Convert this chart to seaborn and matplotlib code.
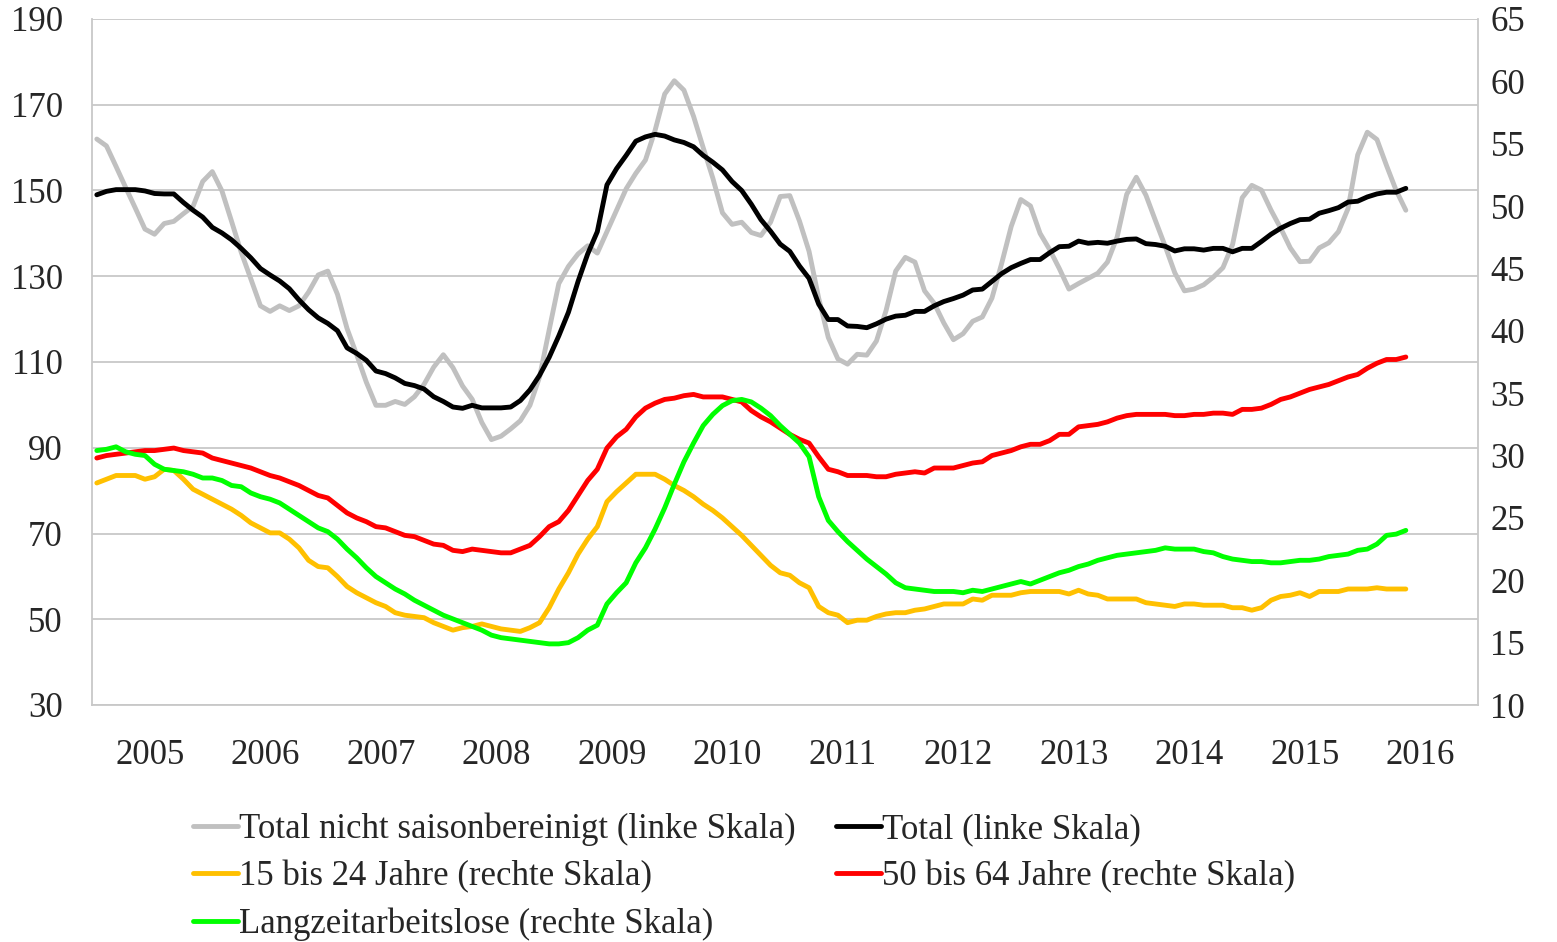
import numpy as np
import pandas as pd
import matplotlib
matplotlib.use("Agg")
import matplotlib.pyplot as plt
from matplotlib.ticker import FixedLocator
import seaborn as sns

# Monatswerte Jan 2005 - Mai 2016 (in Tausend)
years = [str(y) for y in range(2005, 2017)]

# linke Skala
total_nsa = [
    162.0, 160.4, 155.6, 150.7, 145.9, 141.0, 139.8, 142.3, 142.8, 144.6, 146.3, 152.1,
    154.4, 149.9, 142.8, 135.6, 129.4, 123.1, 121.8, 123.1, 122.0, 123.1, 126.3, 130.3,
    131.2, 125.8, 117.8, 111.7, 105.3, 99.9, 99.9, 100.8, 100.1, 101.9, 104.8, 108.8,
    111.7, 108.7, 104.4, 101.3, 95.9, 91.9, 92.7, 94.4, 96.3, 99.9, 106.5, 117.5,
    128.3, 132.3, 135.2, 137.1, 135.4, 140.4, 145.4, 150.4, 154.0, 157.1, 164.0, 172.5,
    175.6, 173.4, 167.3, 160.0, 152.9, 144.8, 142.1, 142.6, 140.2, 139.5, 142.6, 148.6,
    148.8, 142.9, 135.8, 124.9, 115.7, 110.7, 109.5, 111.8, 111.6, 114.9, 122.0, 131.2,
    134.4, 133.3, 126.6, 123.7, 119.1, 115.2, 116.6, 119.5, 120.5, 124.9, 132.9, 141.6,
    147.9, 146.4, 140.0, 136.2, 131.8, 127.0, 128.3, 129.5, 130.7, 133.3, 139.1, 149.1,
    153.1, 148.9, 142.9, 137.0, 130.8, 126.6, 127.0, 128.0, 129.8, 132.0, 137.4, 148.3,
    151.2, 150.1, 145.4, 141.2, 136.6, 133.4, 133.5, 136.6, 137.8, 140.4, 145.8, 158.3,
    163.6, 161.9, 155.8, 150.0, 145.4,
]
total = [
    149.0, 149.8, 150.2, 150.2, 150.2, 149.9, 149.3, 149.2, 149.2, 147.2, 145.4, 143.8,
    141.4, 140.1, 138.5, 136.5, 134.3, 131.8, 130.3, 128.9, 127.1, 124.5, 122.2, 120.3,
    119.0, 117.3, 113.3, 112.0, 110.4, 107.9, 107.3, 106.3, 105.0, 104.5, 103.7, 101.9,
    100.8, 99.5, 99.2, 99.9, 99.3, 99.3, 99.3, 99.5, 101.0, 103.5, 106.9, 111.1,
    116.1, 121.6, 128.8, 135.2, 140.4, 151.3, 155.1, 158.2, 161.5, 162.5, 163.1, 162.7,
    161.8, 161.2, 160.2, 158.2, 156.6, 154.8, 152.1, 150.0, 146.8, 143.2, 140.5, 137.5,
    135.8, 132.4, 129.5, 123.5, 119.9, 119.9, 118.4, 118.3, 118.0, 118.9, 120.0, 120.7,
    120.9, 121.8, 121.8, 123.1, 124.1, 124.8, 125.6, 126.8, 127.0, 128.8, 130.6, 132.0,
    133.0, 133.9, 133.9, 135.5, 136.9, 137.0, 138.2, 137.7, 137.9, 137.7, 138.2, 138.6,
    138.7, 137.6, 137.4, 137.0, 135.9, 136.4, 136.4, 136.1, 136.5, 136.5, 135.7, 136.5,
    136.5, 138.1, 139.8, 141.2, 142.3, 143.2, 143.3, 144.7, 145.3, 146.0, 147.3, 147.5,
    148.5, 149.2, 149.6, 149.6, 150.5,
]

# rechte Skala
age_15_24 = [
    27.8, 28.1, 28.4, 28.4, 28.4, 28.1, 28.3, 28.9, 28.8, 28.1, 27.3, 26.9,
    26.5, 26.1, 25.7, 25.2, 24.6, 24.2, 23.8, 23.8, 23.3, 22.6, 21.6, 21.1,
    21.0, 20.3, 19.5, 19.0, 18.6, 18.2, 17.9, 17.4, 17.2, 17.1, 17.0, 16.6,
    16.3, 16.0, 16.2, 16.3, 16.5, 16.3, 16.1, 16.0, 15.9, 16.2, 16.6, 17.8,
    19.3, 20.6, 22.1, 23.3, 24.3, 26.3, 27.1, 27.8, 28.5, 28.5, 28.5, 28.1,
    27.6, 27.2, 26.7, 26.1, 25.6, 25.0, 24.3, 23.6, 22.8, 22.0, 21.2, 20.6,
    20.4, 19.8, 19.4, 17.9, 17.4, 17.2, 16.6, 16.8, 16.8, 17.1, 17.3, 17.4,
    17.4, 17.6, 17.7, 17.9, 18.1, 18.1, 18.1, 18.5, 18.4, 18.8, 18.8, 18.8,
    19.0, 19.1, 19.1, 19.1, 19.1, 18.9, 19.2, 18.9, 18.8, 18.5, 18.5, 18.5,
    18.5, 18.2, 18.1, 18.0, 17.9, 18.1, 18.1, 18.0, 18.0, 18.0, 17.8, 17.8,
    17.6, 17.8, 18.4, 18.7, 18.8, 19.0, 18.7, 19.1, 19.1, 19.1, 19.3, 19.3,
    19.3, 19.4, 19.3, 19.3, 19.3,
]
age_50_64 = [
    29.8, 30.0, 30.1, 30.2, 30.3, 30.4, 30.4, 30.5, 30.6, 30.4, 30.3, 30.2,
    29.8, 29.6, 29.4, 29.2, 29.0, 28.7, 28.4, 28.2, 27.9, 27.6, 27.2, 26.8,
    26.6, 26.0, 25.4, 25.0, 24.7, 24.3, 24.2, 23.9, 23.6, 23.5, 23.2, 22.9,
    22.8, 22.4, 22.3, 22.5, 22.4, 22.3, 22.2, 22.2, 22.5, 22.8, 23.5, 24.3,
    24.7, 25.6, 26.8, 28.0, 28.9, 30.6, 31.5, 32.1, 33.1, 33.8, 34.2, 34.5,
    34.6, 34.8, 34.9, 34.7, 34.7, 34.7, 34.5, 34.3, 33.6, 33.1, 32.7, 32.2,
    31.7, 31.3, 31.0, 29.9, 28.9, 28.7, 28.4, 28.4, 28.4, 28.3, 28.3, 28.5,
    28.6, 28.7, 28.6, 29.0, 29.0, 29.0, 29.2, 29.4, 29.5, 30.0, 30.2, 30.4,
    30.7, 30.9, 30.9, 31.2, 31.7, 31.7, 32.3, 32.4, 32.5, 32.7, 33.0, 33.2,
    33.3, 33.3, 33.3, 33.3, 33.2, 33.2, 33.3, 33.3, 33.4, 33.4, 33.3, 33.7,
    33.7, 33.8, 34.1, 34.5, 34.7, 35.0, 35.3, 35.5, 35.7, 36.0, 36.3, 36.5,
    37.0, 37.4, 37.7, 37.7, 37.9,
]
long_term = [
    30.4, 30.5, 30.7, 30.3, 30.1, 30.0, 29.3, 28.9, 28.8, 28.7, 28.5, 28.2,
    28.2, 28.0, 27.6, 27.5, 27.0, 26.7, 26.5, 26.2, 25.7, 25.2, 24.7, 24.2,
    23.9, 23.3, 22.5, 21.8, 21.0, 20.3, 19.8, 19.3, 18.9, 18.4, 18.0, 17.6,
    17.2, 16.9, 16.6, 16.3, 16.0, 15.6, 15.4, 15.3, 15.2, 15.1, 15.0, 14.9,
    14.9, 15.0, 15.4, 16.0, 16.4, 18.1, 19.0, 19.8, 21.4, 22.6, 24.1, 25.8,
    27.7, 29.5, 31.0, 32.4, 33.3, 34.0, 34.4, 34.5, 34.3, 33.8, 33.2, 32.4,
    31.7, 31.0, 29.9, 26.7, 24.8, 23.9, 23.1, 22.4, 21.7, 21.1, 20.5, 19.8,
    19.4, 19.3, 19.2, 19.1, 19.1, 19.1, 19.0, 19.2, 19.1, 19.3, 19.5, 19.7,
    19.9, 19.7, 20.0, 20.3, 20.6, 20.8, 21.1, 21.3, 21.6, 21.8, 22.0, 22.1,
    22.2, 22.3, 22.4, 22.6, 22.5, 22.5, 22.5, 22.3, 22.2, 21.9, 21.7, 21.6,
    21.5, 21.5, 21.4, 21.4, 21.5, 21.6, 21.6, 21.7, 21.9, 22.0, 22.1, 22.4,
    22.5, 22.9, 23.6, 23.7, 24.0,
]

df = pd.DataFrame({
    "monat": np.arange(len(total)),
    "total_nsa": total_nsa,
    "total": total,
    "age_15_24": age_15_24,
    "age_50_64": age_50_64,
    "long_term": long_term,
})

sns.set_style("white")
plt.rcParams["font.family"] = ["Liberation Serif", "DejaVu Serif"]
plt.rcParams["font.size"] = 25

grid_col = "#c8c8c8"
line_kw = dict(linewidth=3.5, solid_joinstyle="round", solid_capstyle="round")

fig = plt.figure(figsize=(15.57, 9.42), dpi=100)
ax = fig.add_axes([92 / 1557, 1 - 705 / 942, (1478 - 92) / 1557, 686 / 942])
ax2 = ax.twinx()

# linke Skala
sns.lineplot(data=df, x="monat", y="total_nsa", ax=ax, color="#c0c0c0",
             label="Total nicht saisonbereinigt (linke Skala)", **line_kw)
sns.lineplot(data=df, x="monat", y="total", ax=ax, color="#000000",
             label="Total (linke Skala)", **line_kw)
# rechte Skala
sns.lineplot(data=df, x="monat", y="age_15_24", ax=ax2, color="#ffc000",
             label="15 bis 24 Jahre (rechte Skala)", **line_kw)
sns.lineplot(data=df, x="monat", y="age_50_64", ax=ax2, color="#ff0000",
             label="50 bis 64 Jahre (rechte Skala)", **line_kw)
sns.lineplot(data=df, x="monat", y="long_term", ax=ax2, color="#00ff00",
             label="Langzeitarbeitslose (rechte Skala)", **line_kw)

h1, l1 = ax.get_legend_handles_labels()
h2, l2 = ax2.get_legend_handles_labels()
ax.get_legend().remove()
ax2.get_legend().remove()

# Achsen
ax.set_xlim(-0.5, 12 * len(years) - 0.5)
ax.set_ylim(30, 190)
ax.set_yticks(range(30, 191, 20))
ax2.set_ylim(10, 65)
ax2.set_yticks(range(10, 66, 5))
ax.set_xlabel("")
ax.set_ylabel("")
ax2.set_xlabel("")
ax2.set_ylabel("")

ax.grid(axis="y", color=grid_col, linewidth=1.3)
ax.set_axisbelow(True)

ax.xaxis.set_major_locator(FixedLocator(np.arange(-0.5, 12 * len(years), 12)))
ax.xaxis.set_minor_locator(FixedLocator(np.arange(-0.5, 12 * len(years), 1)))
ax.tick_params(axis="x", which="major", length=49, width=1.0, color=grid_col,
               labelbottom=False)
ax.tick_params(axis="x", which="minor", length=14, width=1.0, color=grid_col)
ax.tick_params(axis="y", length=0, pad=21, labelsize=25)
ax2.tick_params(axis="y", length=0, pad=9, labelsize=25)

for i, yr in enumerate(years):
    ax.text(12 * i + 5.5, -0.074, yr, transform=ax.get_xaxis_transform(),
            ha="center", va="center", fontsize=25)

for sp in ["top", "right"]:
    ax.spines[sp].set_visible(False)
for sp in ["top", "left", "bottom"]:
    ax2.spines[sp].set_visible(False)
for a, sp in [(ax, "left"), (ax, "bottom"), (ax2, "right")]:
    a.spines[sp].set_color(grid_col)
    a.spines[sp].set_linewidth(1.3)

# Legende unten, zeilenweise
handles = [h1[0], h2[0], h2[2], h1[1], h2[1]]
labels = [l1[0], l2[0], l2[2], l1[1], l2[1]]
fig.legend(handles, labels, loc="upper left", bbox_to_anchor=(193 / 1557, 1 - 813 / 942),
           ncol=2, frameon=False, fontsize=25, handlelength=1.3, handletextpad=0.03,
           columnspacing=1.15, labelspacing=0.40, borderpad=0, borderaxespad=0)

fig.savefig("out.png", dpi=100)
